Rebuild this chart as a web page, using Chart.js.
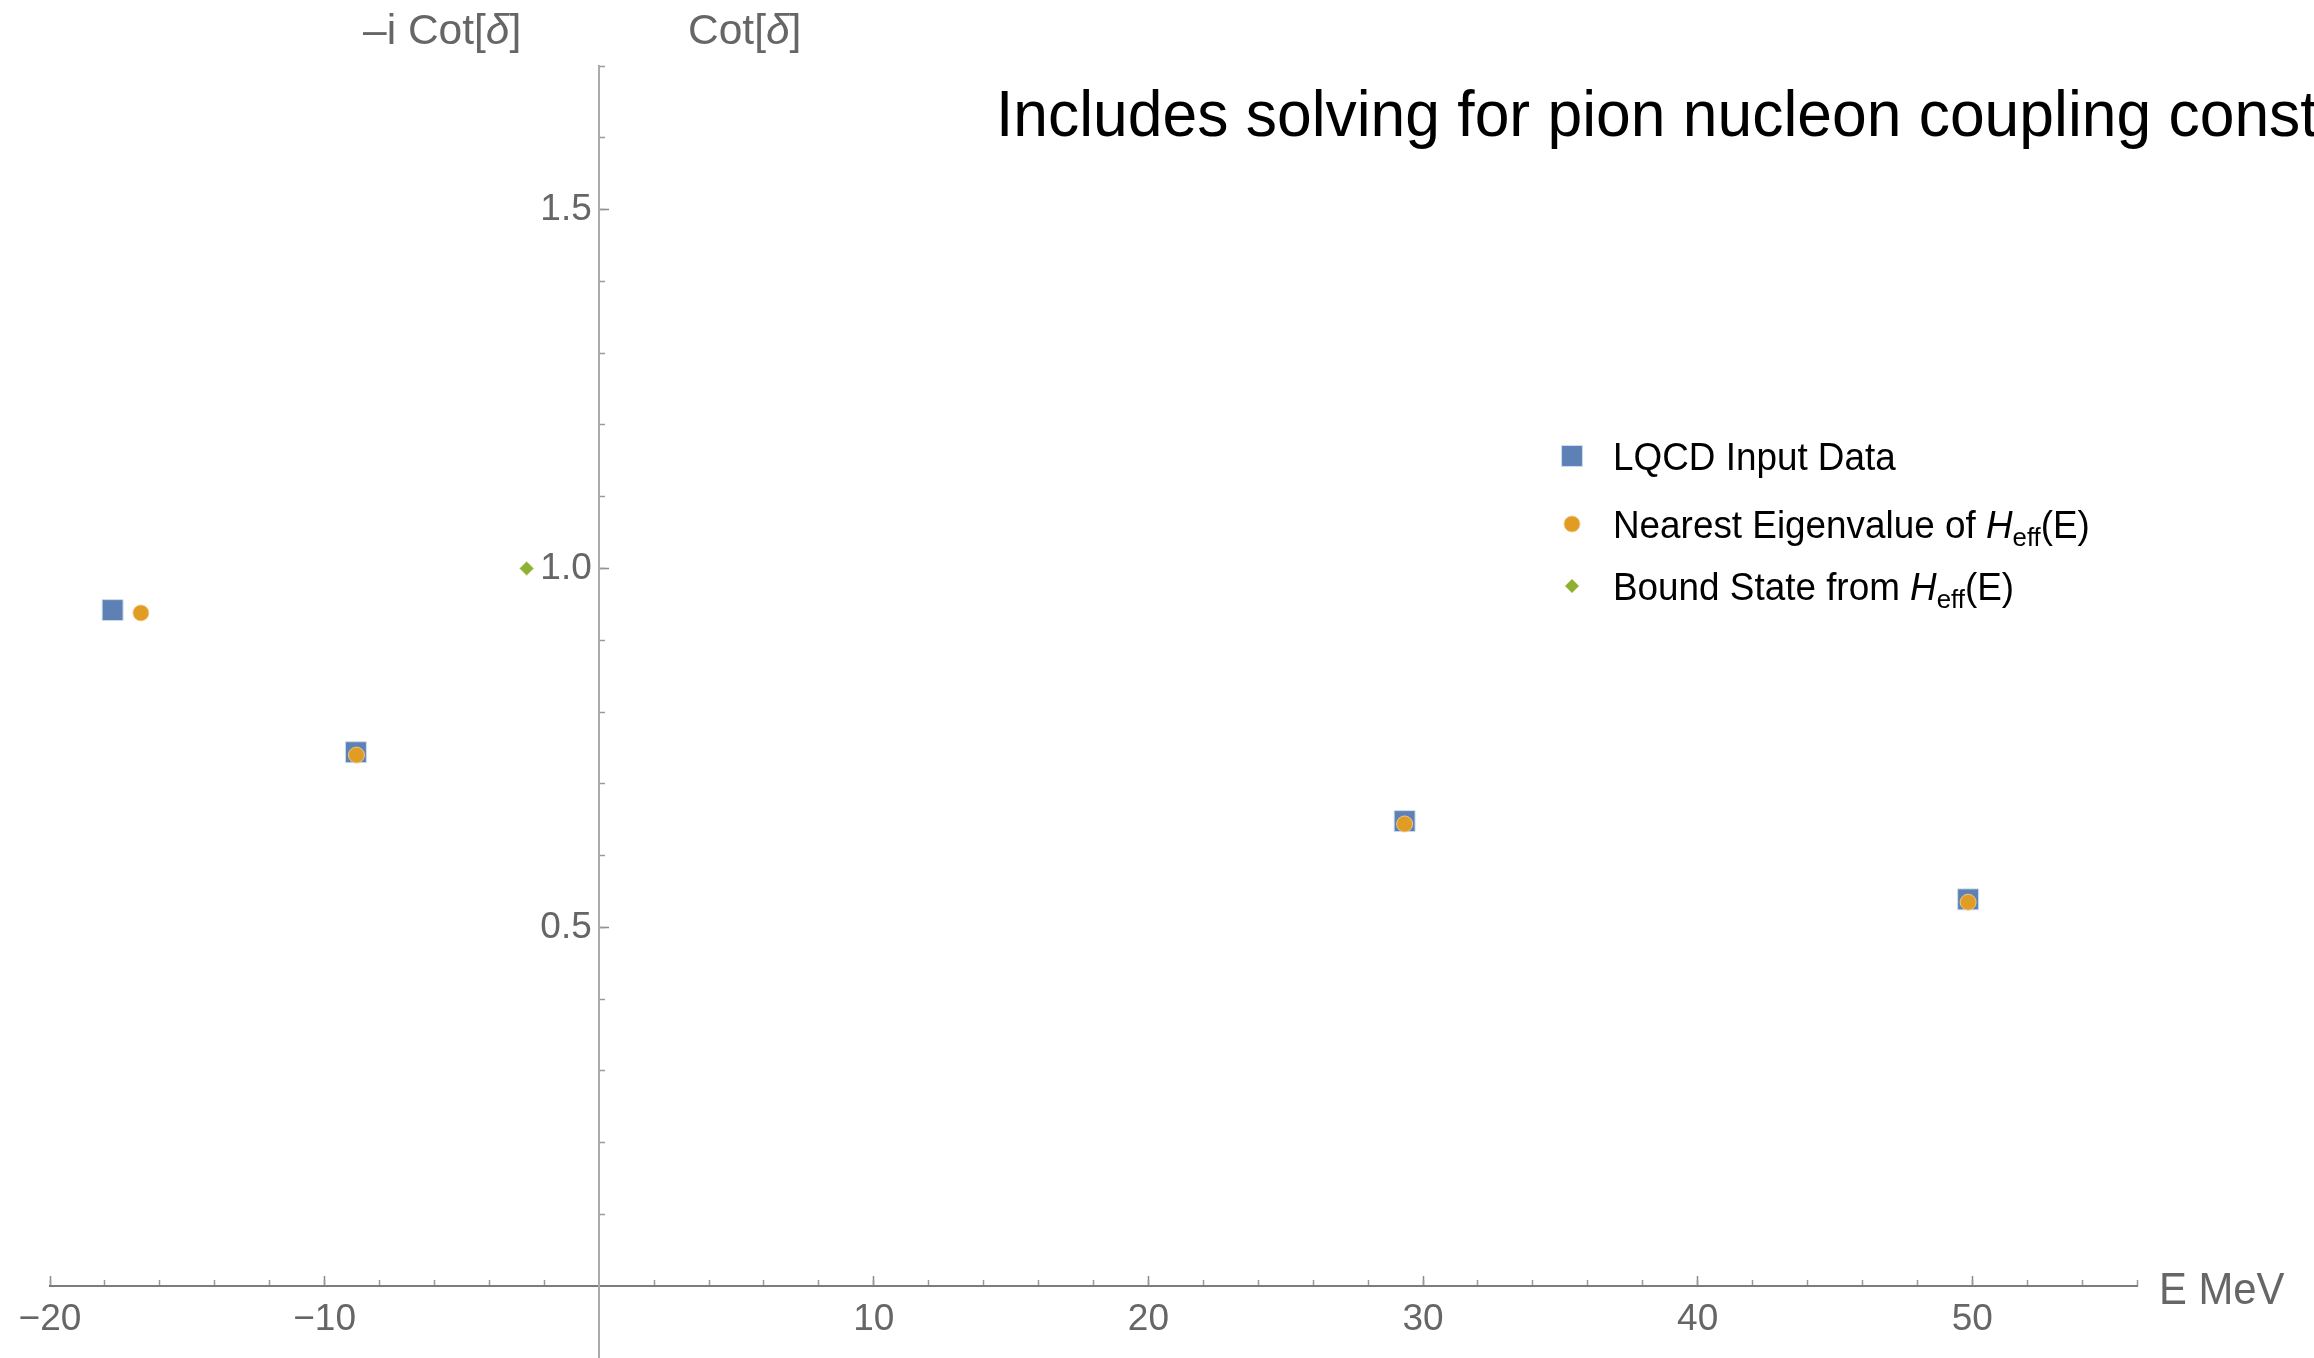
<!DOCTYPE html>
<html>
<head>
<meta charset="utf-8">
<title>Cot δ vs E</title>
<script src="https://cdn.jsdelivr.net/npm/chart.js@4.4.1/dist/chart.umd.min.js"></script>
<style>
  html, body { margin: 0; padding: 0; background: #ffffff; overflow: hidden; }
  canvas { display: block; }
</style>
</head>
<body>
<canvas id="chart" width="2314" height="1358"></canvas>
<script>
// Energies (MeV) and Cot[δ] values for each series
const lqcdE      = [-17.72, -8.86, 29.33, 49.85];
const lqcdCot    = [0.942, 0.744, 0.648, 0.539];
const eigenE     = [-16.69, -8.84, 29.33, 49.85];
const eigenCot   = [0.938, 0.740, 0.644, 0.535];
const boundE     = [-2.64];
const boundCot   = [1.0];

// Labelled tick values
const xTickLabels = [-20, -10, 10, 20, 30, 40, 50];
const yTickLabels = [0.5, 1.0, 1.5];

const seriesNames = ['LQCD Input Data', 'Nearest Eigenvalue of', 'Bound State from'];

const BLUE = '#5E81B5', ORANGE = '#E19C24', GREEN = '#8FB032';
const FONT = "'Liberation Sans', Arial, sans-serif";
const TICK_GREY = '#666666';

const toPoints = (xs, ys) => xs.map((x, i) => ({ x: x, y: ys[i] }));
const near = (a, b) => Math.abs(a - b) < 1e-9;
const fmtMinus = v => String(v).replace('-', '\u2212');

// Rich text: runs of {t, it, sub}
function drawRuns(ctx, x, y, runs, size, color, stretch) {
  ctx.save();
  ctx.translate(x, y);
  ctx.scale(stretch || 1, 1);
  ctx.fillStyle = color;
  ctx.textBaseline = 'alphabetic';
  ctx.textAlign = 'left';
  let cx = 0;
  for (const r of runs) {
    const s = r.sub ? size * 0.7 : size;
    ctx.font = (r.it ? 'italic ' : '') + s + 'px ' + FONT;
    ctx.fillText(r.t, cx, r.sub ? size * 0.22 : 0);
    cx += ctx.measureText(r.t).width;
  }
  ctx.restore();
}

const annotations = {
  id: 'annotations',
  afterDraw(chart) {
    const ctx = chart.ctx;
    // Plot title
    drawRuns(ctx, 996, 136, [{ t: 'Includes solving for pion nucleon coupling const' }], 65, '#000', 0.96);
    // Axis labels
    drawRuns(ctx, 363, 44, [{ t: '\u2013i Cot[' }, { t: '\u03B4', it: true }, { t: ']' }], 42.5, TICK_GREY);
    drawRuns(ctx, 688, 44, [{ t: 'Cot[' }, { t: '\u03B4', it: true }, { t: ']' }], 42.5, TICK_GREY);
    drawRuns(ctx, 2159, 1304, [{ t: 'E MeV' }], 44, TICK_GREY, 0.95);

    // Legend
    const rows = [
      { ds: 0, y: 456, runs: [{ t: seriesNames[0] }] },
      { ds: 1, y: 524, runs: [{ t: seriesNames[1] + ' ' }, { t: 'H', it: true }, { t: 'eff', sub: true }, { t: '(E)' }] },
      { ds: 2, y: 586, runs: [{ t: seriesNames[2] + ' ' }, { t: 'H', it: true }, { t: 'eff', sub: true }, { t: '(E)' }] }
    ];
    for (const row of rows) {
      const d = chart.data.datasets[row.ds];
      ctx.save();
      ctx.fillStyle = d.backgroundColor;
      ctx.strokeStyle = d.borderColor;
      Chart.helpers.drawPoint(ctx, {
        pointStyle: d.pointStyle, radius: d.pointRadius, borderWidth: d.borderWidth, rotation: 0
      }, 1572, row.y);
      ctx.restore();
      drawRuns(ctx, 1613, row.y + 14, row.runs, 38, '#000', 0.97);
    }
  }
};

const tickFont = { family: FONT, size: 37 };
const hideAtZero = (color) => (c) => (c.tick && near(c.tick.value, 0)) ? 'rgba(0,0,0,0)' : color;
const hideNonPositive = (color) => (c) => (c.tick && c.tick.value <= 1e-9) ? 'rgba(0,0,0,0)' : color;
// Axes cross at the origin, so they take no room of their own in the layout
function noRoom(scale) {
  if (scale.isHorizontal()) scale.height = 0; else scale.width = 0;
  scale.paddingLeft = scale.paddingRight = scale.paddingTop = scale.paddingBottom = 0;
}

new Chart(document.getElementById('chart'), {
  type: 'scatter',
  data: {
    datasets: [
      {
        label: seriesNames[0],
        data: toPoints(lqcdE, lqcdCot),
        pointStyle: 'rect', pointRadius: 14.8, pointHoverRadius: 14.8,
        backgroundColor: BLUE, borderColor: 'rgba(210,222,240,0.9)', borderWidth: 1,
        order: 3
      },
      {
        label: seriesNames[1],
        data: toPoints(eigenE, eigenCot),
        pointStyle: 'circle', pointRadius: 8, pointHoverRadius: 8,
        backgroundColor: ORANGE, borderColor: 'rgba(240,205,150,0.9)', borderWidth: 1,
        order: 2
      },
      {
        label: seriesNames[2],
        data: toPoints(boundE, boundCot),
        pointStyle: 'rectRot', pointRadius: 7, pointHoverRadius: 7,
        backgroundColor: GREEN, borderColor: 'rgba(200,220,150,0.9)', borderWidth: 1,
        order: 1
      }
    ]
  },
  options: {
    responsive: false,
    animation: false,
    devicePixelRatio: 1,
    layout: { autoPadding: false, padding: { left: 50, top: 66, right: 177, bottom: 0 } },
    plugins: { legend: { display: false }, tooltip: { enabled: false } },
    scales: {
      x: {
        type: 'linear', min: -20, max: 56, position: { y: 0 },
        afterFit: noRoom,
        ticks: {
          stepSize: 10, includeBounds: false, autoSkip: false, maxRotation: 0,
          color: TICK_GREY, font: tickFont, padding: 22,
          callback: (v) => xTickLabels.some(t => near(t, v)) ? fmtMinus(v) : ''
        },
        grid: {
          drawOnChartArea: false, drawTicks: true, tickLength: -11, tickWidth: 1.5,
          tickColor: hideAtZero('#8a8a8a')
        },
        border: { display: true, color: '#7c7c7c', width: 2 }
      },
      xMinor: {
        type: 'linear', min: -20, max: 56, position: { y: 0 },
        afterFit: noRoom,
        ticks: { stepSize: 2, includeBounds: false, display: false },
        grid: {
          drawOnChartArea: false, drawTicks: true, tickLength: -6, tickWidth: 1.5,
          tickColor: hideAtZero('#9a9a9a')
        },
        border: { display: false }
      },
      y: {
        type: 'linear', min: -0.1, max: 1.7, position: { x: 0 },
        afterFit: noRoom,
        ticks: {
          stepSize: 0.5, includeBounds: false, color: TICK_GREY, font: tickFont,
          callback: (v) => yTickLabels.some(t => near(t, v)) ? v.toFixed(1) + '\u2009' : ''
        },
        grid: {
          drawOnChartArea: false, drawTicks: true, tickLength: -11, tickWidth: 1.5,
          tickColor: hideNonPositive('#8a8a8a')
        },
        border: { display: true, color: '#ababab', width: 2 }
      },
      yMinor: {
        type: 'linear', min: -0.1, max: 1.7, position: { x: 0 },
        afterFit: noRoom,
        ticks: { stepSize: 0.1, includeBounds: false, display: false },
        grid: {
          drawOnChartArea: false, drawTicks: true, tickLength: -6, tickWidth: 1.5,
          tickColor: hideNonPositive('#9a9a9a')
        },
        border: { display: false }
      }
    }
  },
  plugins: [annotations]
});
</script>
</body>
</html>
